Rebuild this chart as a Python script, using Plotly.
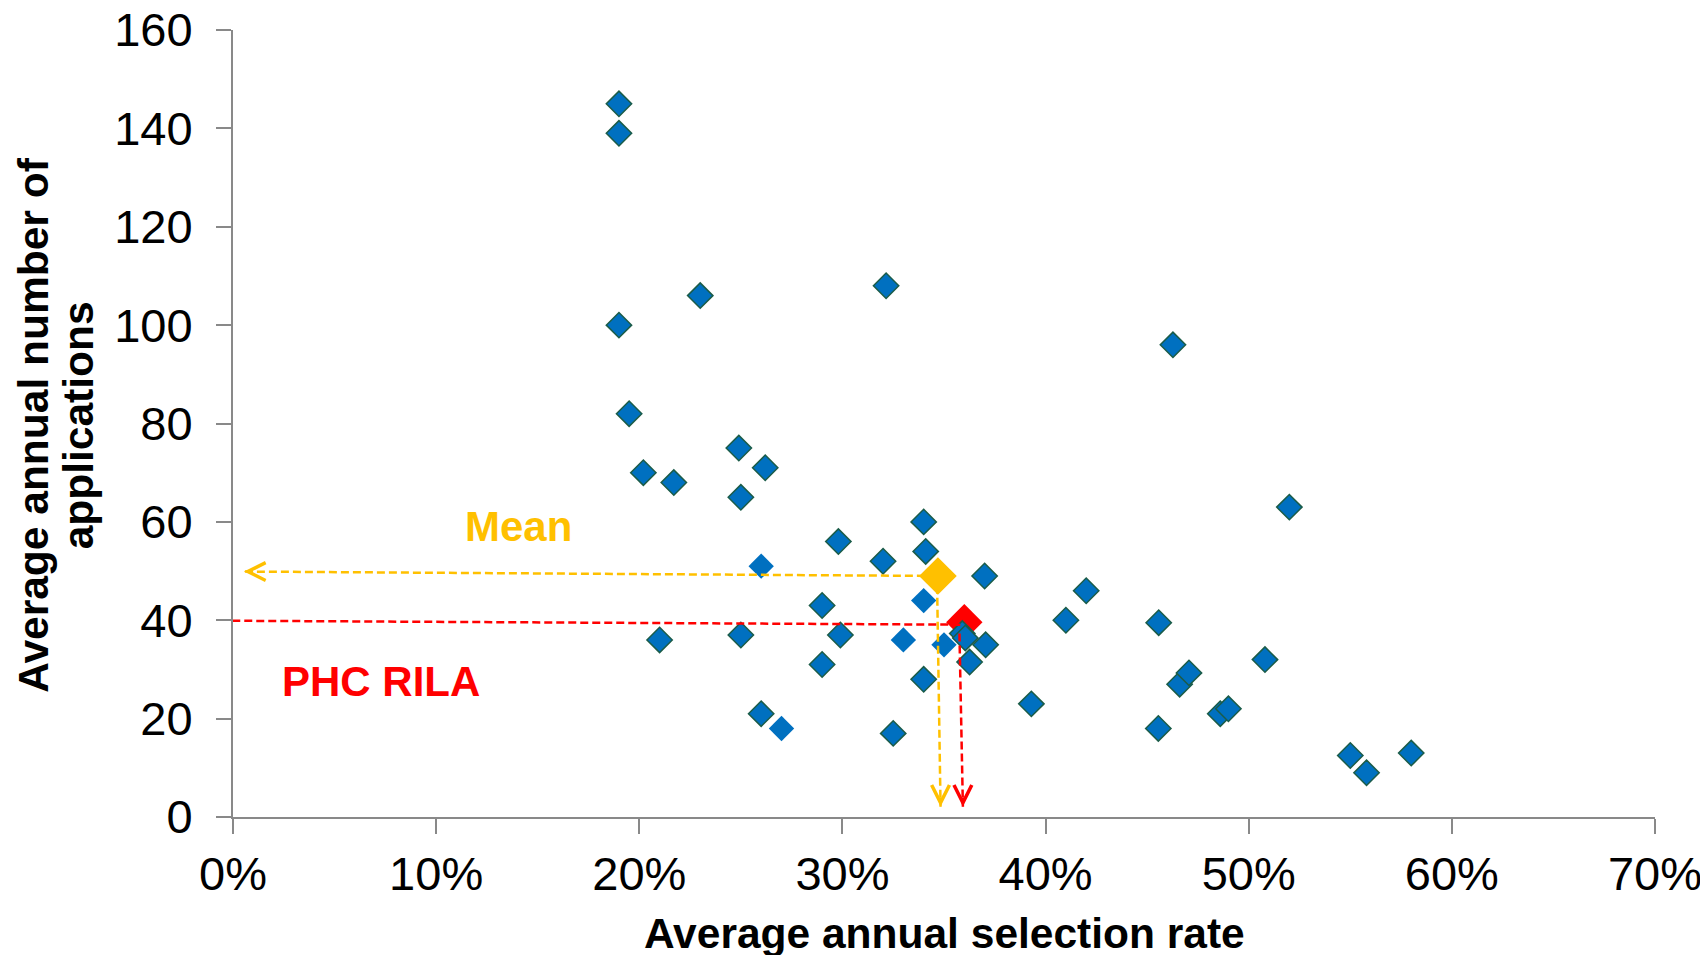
import plotly.graph_objects as go

# ---- data (selection rate as fraction, applications) ----
rate_main = [0.190, 0.190, 0.190, 0.195, 0.202, 0.217, 0.230, 0.249, 0.250, 0.262,
             0.210, 0.250, 0.260, 0.290, 0.298, 0.299, 0.290, 0.3215, 0.320, 0.325,
             0.340, 0.341, 0.340, 0.359, 0.3605, 0.3626, 0.3705, 0.370, 0.393, 0.410,
             0.420, 0.4557, 0.4555, 0.4627, 0.466, 0.4706, 0.486, 0.490, 0.508, 0.520,
             0.550, 0.558, 0.580]
apps_main = [145, 139, 100, 82, 70, 68, 106, 75, 65, 71,
             36, 37, 21, 43, 56, 37, 31, 108, 52, 17,
             60, 54, 28, 37.3, 36.4, 31.5, 35, 49, 23, 40,
             46, 39.5, 18, 96, 27, 29.3, 21, 22, 32, 63,
             12.5, 9, 13]

rate_plain = [0.260, 0.270, 0.330, 0.340, 0.350]
apps_plain = [51, 18, 36, 44, 35]

mean_rate, mean_apps = 0.347, 49.0
phc_rate, phc_apps = 0.360, 39.6

# arrow guide lines: start near the marker, tip near the axes
mean_h = dict(x=[0.3465, 0.0054], y=[49.0, 49.9])
mean_v = dict(x=[0.3466, 0.3483], y=[47.0, 2.1])
phc_h = dict(x=[0.358, -0.001], y=[39.1, 39.9])
phc_v = dict(x=[0.3576, 0.3593], y=[37.3, 2.1])

x_ticks = [0, 0.1, 0.2, 0.3, 0.4, 0.5, 0.6, 0.7]
y_ticks = [0, 20, 40, 60, 80, 100, 120, 140, 160]

BLUE = "#0070C0"
BORDER = "#1B5C48"
GOLD = "#FFC000"
RED = "#FF0000"
FONT = "Liberation Sans, Arial, sans-serif"

fig = go.Figure()

fig.add_trace(go.Scatter(x=[phc_rate], y=[phc_apps], mode="markers",
                         marker=dict(symbol="diamond", size=28, color=RED, line=dict(width=0)),
                         showlegend=False, hoverinfo="skip"))
fig.add_trace(go.Scatter(x=rate_main, y=apps_main, mode="markers",
                         marker=dict(symbol="diamond", size=19.5, color=BLUE,
                                     line=dict(width=1.5, color=BORDER)),
                         showlegend=False))
fig.add_trace(go.Scatter(x=rate_plain, y=apps_plain, mode="markers",
                         marker=dict(symbol="diamond", size=19.5, color=BLUE, line=dict(width=0)),
                         showlegend=False))
fig.add_trace(go.Scatter(x=[mean_rate], y=[mean_apps], mode="markers",
                         marker=dict(symbol="diamond", size=29, color=GOLD, line=dict(width=0)),
                         showlegend=False, hoverinfo="skip"))

for seg, col in [(mean_h, GOLD), (mean_v, GOLD), (phc_h, RED), (phc_v, RED)]:
    fig.add_trace(go.Scatter(x=seg["x"], y=seg["y"], mode="lines",
                             line=dict(color=col, width=2.5, dash="8px,4px"),
                             showlegend=False, hoverinfo="skip"))

annotations = []
for seg, col, horiz in [(mean_h, GOLD, True), (mean_v, GOLD, False),
                        (phc_h, RED, True), (phc_v, RED, False)]:
    annotations.append(dict(
        x=seg["x"][1], y=seg["y"][1], xref="x", yref="y",
        ax=10 if horiz else 0, ay=0 if horiz else -10,
        axref="pixel", ayref="pixel", showarrow=True,
        arrowhead=5, arrowsize=1.4, arrowwidth=2.5, arrowcolor=col,
        standoff=0, text=""))

annotations += [
    dict(text="<b>Mean</b>", x=0.1406, y=59.1, xref="x", yref="y", showarrow=False,
         font=dict(family=FONT, size=42, color=GOLD), xanchor="center", yanchor="middle"),
    dict(text="<b>PHC RILA</b>", x=0.0727, y=27.6, xref="x", yref="y", showarrow=False,
         font=dict(family=FONT, size=42, color=RED), xanchor="center", yanchor="middle"),
    dict(text="<b>Average annual selection rate</b>", x=0.5, y=-0.1474, xref="paper",
         yref="paper", showarrow=False, font=dict(family=FONT, size=42.5, color="black"),
         xanchor="center", yanchor="middle"),
    dict(text="<b>Average annual number of</b>", x=-0.1409, y=0.498, xref="paper",
         yref="paper", showarrow=False, textangle=-90,
         font=dict(family=FONT, size=42.5, color="black"), xanchor="center", yanchor="middle"),
    dict(text="<b>applications</b>", x=-0.1088, y=0.498, xref="paper",
         yref="paper", showarrow=False, textangle=-90,
         font=dict(family=FONT, size=42.5, color="black"), xanchor="center", yanchor="middle"),
]

# page body has an 8px margin: the figure is offset by (8, 8)
fig.update_layout(
    width=1700, height=947,
    margin=dict(l=225, r=53, t=22, b=138),
    paper_bgcolor="white", plot_bgcolor="white",
    font=dict(family=FONT, color="black"),
    annotations=annotations,
    hovermode="closest",
)
fig.update_xaxes(range=[0, 0.7], tickvals=x_ticks, tickformat=".0%",
                 showgrid=False, zeroline=False, showline=True, automargin=False,
                 ticklabeloverflow="allow",
                 linecolor="#898989", linewidth=2,
                 ticks="outside", ticklen=15, tickwidth=1.5, tickcolor="#898989",
                 tickfont=dict(family=FONT, size=47, color="black"),
                 ticklabelstandoff=0)
fig.update_yaxes(range=[0, 160], tickvals=y_ticks,
                 showgrid=False, zeroline=False, showline=True, automargin=False,
                 ticklabeloverflow="allow",
                 linecolor="#898989", linewidth=2,
                 ticks="outside", ticklen=15, tickwidth=1.5, tickcolor="#898989",
                 tickfont=dict(family=FONT, size=47, color="black"),
                 ticklabelstandoff=14)

fig.write_html("out.html")
